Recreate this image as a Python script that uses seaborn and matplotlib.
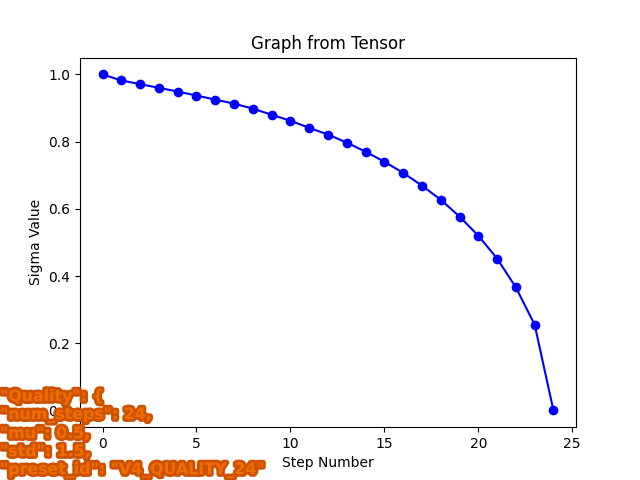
import numpy as np
import pandas as pd
import matplotlib.pyplot as plt
import matplotlib.patheffects as pe
import seaborn as sns

# sigma schedule values
steps = list(range(25))
sigmas = [1.000, 0.982, 0.971, 0.960, 0.949, 0.937, 0.925, 0.913, 0.898,
          0.880, 0.862, 0.841, 0.821, 0.797, 0.770, 0.740, 0.707, 0.669,
          0.627, 0.577, 0.520, 0.452, 0.366, 0.255, 0.000]

overlay_lines = ['"Quality": {',
                 '"num_steps": 24,',
                 '"mu": 0.5,',
                 '"std": 1.5,',
                 '"preset_id": "V4_QUALITY_24"']

data = pd.DataFrame({'Step Number': steps, 'Sigma Value': sigmas})

fig, ax = plt.subplots(figsize=(6.4, 4.8), dpi=100)
sns.lineplot(x='Step Number', y='Sigma Value', data=data, color='blue',
             marker='o', markersize=7, markeredgewidth=0, linewidth=1.5, ax=ax)
ax.set_title('Graph from Tensor')
ax.set_xlabel('Step Number')
ax.set_ylabel('Sigma Value')

# orange outlined overlay text in the lower left corner
fig.text(0.0, 0.004, '\n'.join(overlay_lines), ha='left', va='bottom',
         fontsize=11.4, fontweight='bold', color='#f26c00', zorder=10,
         linespacing=1.25,
         path_effects=[pe.withStroke(linewidth=4, foreground='#cc5200')])

fig.savefig('out.png', dpi=100)
